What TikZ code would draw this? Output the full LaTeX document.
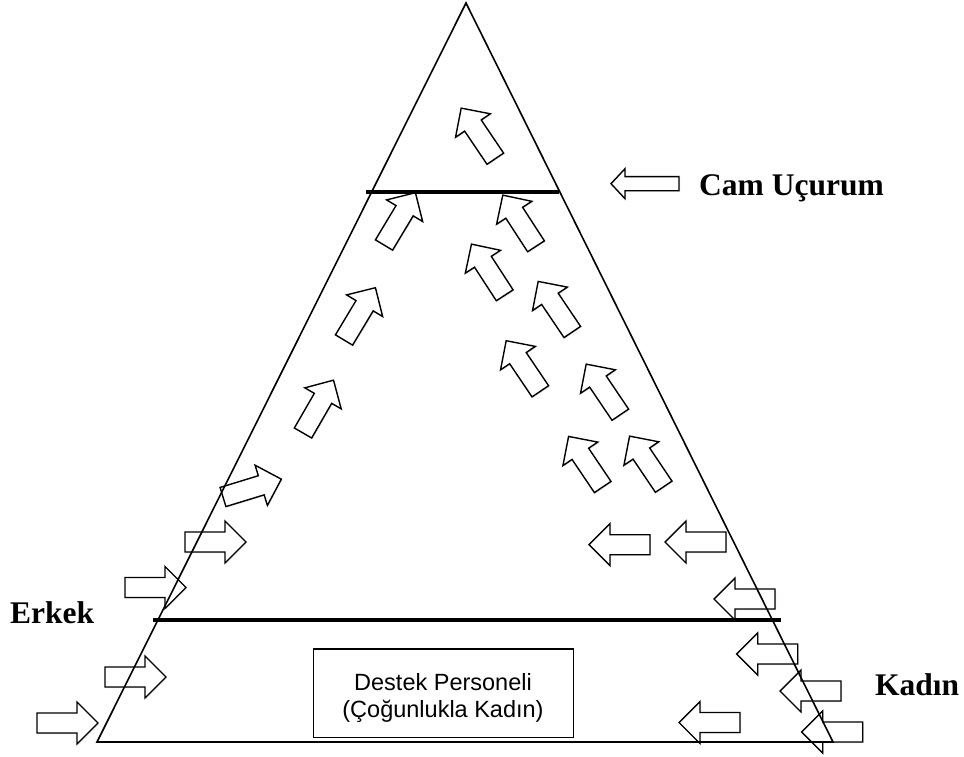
\documentclass[tikz,border=0pt]{standalone}
\usepackage{fontspec}
\setmainfont{Liberation Serif}
\newfontfamily\boxfont{Liberation Sans}
\usetikzlibrary{shadows}
\tikzset{
  shadowed/.style={drop shadow={shadow xshift=1pt, shadow yshift=-1pt, opacity=0.22, fill=black!60}},
  arrowstyle/.style={draw=black, line width=1.4pt, fill=white, line join=miter, shadowed},
  blockarrow/.pic={\path[arrowstyle] (0,-10) -- (40,-10) -- (40,-21) -- (61,0) -- (40,21) -- (40,10) -- (0,10) -- cycle;},
  smallarrow/.pic={\path[arrowstyle] (0,-7) -- (54,-7) -- (54,-15) -- (68,0) -- (54,15) -- (54,7) -- (0,7) -- cycle;},
  edge line/.style={draw=black, line width=1.6pt},
  level line/.style={draw=black, line width=4.5pt},
  label text/.style={font=\fontsize{31.5}{36}\selectfont\bfseries, inner sep=0pt},
  box text/.style={font=\boxfont\fontsize{23.5}{27}\selectfont, inner sep=0pt}
}
\begin{document}
\begin{tikzpicture}[x=1pt,y=-1pt]
\useasboundingbox (0,0) rectangle (964,757);
% coordinates
\coordinate (apex) at (466,3);
\coordinate (bl) at (97,742);
\coordinate (br) at (833,742);
% left horizontal arrows
\pic at (37,723) {blockarrow};
\pic at (105,677) {blockarrow};
\pic at (125,587.5) {blockarrow};
\pic at (185,542) {blockarrow};
\pic[rotate=17] at (223,497) {blockarrow};
% left up-right arrows
\pic[rotate=60] at (303,433) {blockarrow};
\pic[rotate=59] at (344,340) {blockarrow};
\pic[rotate=59] at (384,245) {blockarrow};
% up-left arrows
\pic[rotate=124] at (495.3,158.7) {blockarrow};
\pic[rotate=123] at (536,246.3) {blockarrow};
\pic[rotate=123] at (504.7,295.3) {blockarrow};
\pic[rotate=124] at (572.3,332) {blockarrow};
\pic[rotate=124] at (540.3,391.3) {blockarrow};
\pic[rotate=124] at (620.3,414.7) {blockarrow};
\pic[rotate=124] at (602.7,487) {blockarrow};
\pic[rotate=124] at (663.7,486.7) {blockarrow};
% right left-pointing arrows
\pic[rotate=180] at (650,544.7) {blockarrow};
\pic[rotate=180] at (726,542) {blockarrow};
\pic[rotate=180] at (775,599) {blockarrow};
\pic[rotate=180] at (797.7,654) {blockarrow};
\pic[rotate=180] at (841,691) {blockarrow};
\pic[rotate=180] at (862.7,732) {blockarrow};
\pic[rotate=180] at (740,722.5) {blockarrow};
% cam ucurum arrow
\pic[rotate=180] at (679,183.7) {smallarrow};
% triangle
\draw[edge line, line join=miter] (apex) -- (br) -- (bl) -- cycle;
% level lines
\coordinate (u1) at (366,192);
\coordinate (u2) at (559,192);
\coordinate (l1) at (153,620);
\coordinate (l2) at (781,620);
\draw[level line] (u1) -- (u2);
\draw[level line] (l1) -- (l2);
% box
\node[draw=black, line width=1.5pt, fill=white, shadowed, minimum width=260pt, minimum height=88.4pt, anchor=north west, inner sep=0pt] (box) at (312.7,648.3) {};
\node[box text, anchor=base] (boxl1) at (443,690) {Destek Personeli};
\node[box text, anchor=base] (boxl2) at (443,717) {(Çoğunlukla Kadın)};
% labels
\node[label text, anchor=base west] (cam) at (699,195) {Cam Uçurum};
\node[label text, anchor=base west] (erkek) at (10,623) {Erkek};
\node[label text, anchor=base west] (kadin) at (875,695) {Kadın};
\end{tikzpicture}
\end{document}
